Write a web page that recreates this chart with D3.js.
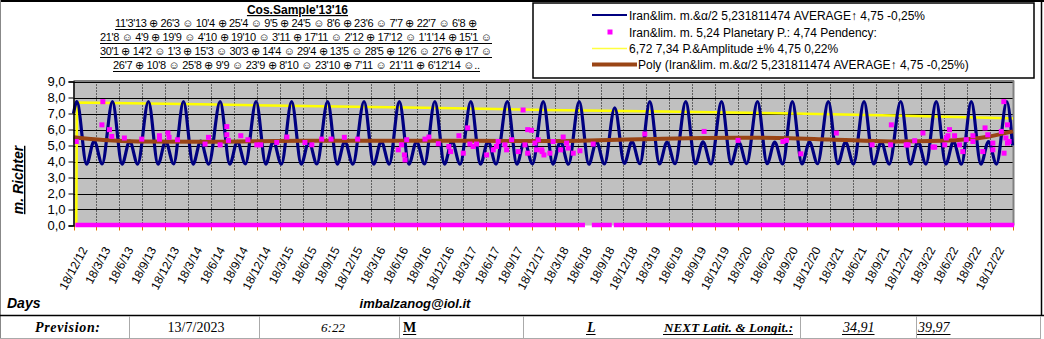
<!DOCTYPE html>
<html><head><meta charset="utf-8">
<script src="https://cdn.jsdelivr.net/npm/d3@7"></script>
<style>
body{margin:0;background:#fff}
svg{display:block}
</style>
</head><body>
<svg id="c" width="1044" height="339" font-family="Arial, 'Liberation Sans', sans-serif"></svg>
<script>
// ---------- DATA ----------
const quarterLabels = ["18/12/12","18/3/13","18/6/13","18/9/13","18/12/13","18/3/14","18/6/14","18/9/14","18/12/14","18/3/15","18/6/15","18/9/15","18/12/15","18/3/16","18/6/16","18/9/16","18/12/16","18/3/17","18/6/17","18/9/17","18/12/17","18/3/18","18/6/18","18/9/18","18/12/18","18/3/19","18/6/19","18/9/19","18/12/19","18/3/20","18/6/20","18/9/20","18/12/20","18/3/21","18/6/21","18/9/21","18/12/21","18/3/22","18/6/22","18/9/22","18/12/22"];
const yTickValues = [0,1,2,3,4,5,6,7,8,9];

// blue series (Iran&lim. m.&α/2) – key points, x in quarters from the left edge
const blueQ = [0.00,
 0.15,0.57,0.90,1.25, 1.70,2.12,2.45,2.80, 3.27,3.69,4.02,4.37, 4.80,5.22,5.55,5.90,
 6.40,6.82,7.15,7.50, 7.97,8.39,8.72,9.07, 9.52,9.94,10.27,10.62, 11.09,11.51,11.84,12.19,
 12.68,13.10,13.43,13.78, 14.22,14.64,14.97,15.32, 15.77,16.19,16.52,16.87, 17.34,17.76,18.09,18.44,
 18.93,19.35,19.68,20.03, 20.50,20.92,21.25,21.60, 22.07,22.49,22.82,23.17, 23.62,24.04,24.37,24.72,
 25.15,25.57,25.90,26.25, 26.72,27.14,27.47,27.82, 28.28,28.70,29.03,29.38, 29.85,30.27,30.60,30.95,
 31.37,31.79,32.12,32.47, 32.94,33.36,33.69,34.04, 34.50,34.92,35.25,35.60, 36.10,36.52,36.85,37.20,
 37.65,38.07,38.40,38.75, 39.18,39.60,39.93,40.28, 40.73,40.98];
const blueM = [7.00,
 7.74,3.83,5.28,3.85, 7.74,3.83,5.27,3.84, 7.75,3.83,5.26,3.85, 7.74,3.84,5.27,3.83,
 7.74,3.83,5.26,3.85, 7.75,3.84,5.27,3.83, 7.74,3.83,5.25,3.85, 7.74,3.84,5.26,3.83,
 7.75,3.83,5.26,3.84, 7.74,3.83,5.25,3.85, 7.75,3.84,5.26,3.83, 7.74,3.83,5.25,3.84,
 7.75,3.83,5.26,3.85, 7.74,3.84,5.25,3.83, 7.74,3.83,5.24,3.85, 7.36,3.88,5.24,3.86,
 7.74,3.85,5.22,3.86, 7.74,3.86,5.23,3.85, 7.74,3.85,5.22,3.87, 7.75,3.86,5.22,3.85,
 7.74,3.85,5.21,3.86, 7.74,3.86,5.22,3.85, 7.74,3.85,5.22,3.84, 7.75,3.84,5.23,3.84,
 7.74,3.84,5.24,3.83, 7.74,3.83,5.25,3.84, 7.75,5.00];

// magenta points (Planetary P.)
const planetQ = [0.12,1.28,1.24,1.57,1.67,2.22,2.98,3.75,3.75,4.12,4.17,4.54,5.74,5.89,6.40,6.69,6.69,6.76,7.30,7.61,8.00,8.17,8.87,9.31,10.10,10.40,10.83,11.24,11.82,12.40,
 14.17,14.32,14.44,14.47,14.54,15.34,15.51,15.92,16.38,16.46,16.82,17.01,17.20,17.30,17.44,17.59,18.03,18.32,18.46,18.53,18.83,18.90,19.12,19.41,19.62,19.70,19.82,19.82,19.99,
 20.14,20.21,20.28,20.43,20.45,20.53,20.79,20.93,21.26,21.37,21.52,21.59,21.81,22.10,22.68,24.93,27.52,29.00,30.96,31.11,31.74,33.29,34.85,35.66,35.69,36.34,36.42,36.71,
 37.07,37.51,37.58,38.02,38.09,38.16,38.23,38.45,38.67,38.81,38.96,39.25,39.25,39.68,39.78,39.90,40.12,40.12,40.49,40.60,40.61,40.69,40.76,40.76,40.83];
const planetM = [5.25,7.74,6.29,5.99,5.57,5.47,5.40,5.61,5.40,5.78,5.51,5.36,5.09,5.51,5.04,6.18,5.67,5.32,5.61,5.36,5.04,5.04,5.19,5.53,5.19,5.04,5.40,5.40,5.51,5.40,
 4.73,5.04,4.41,4.10,5.36,5.40,5.53,5.11,4.94,4.62,5.61,4.52,6.10,5.09,4.94,5.09,4.41,4.73,4.94,5.25,5.04,4.73,5.36,4.62,7.22,5.04,5.99,4.52,5.95,
 5.15,4.73,5.36,4.73,4.62,4.41,4.52,5.25,4.73,5.53,5.15,4.84,4.52,4.67,5.09,5.72,5.88,5.32,5.25,5.32,4.48,5.78,5.04,5.04,6.29,5.04,5.04,5.30,
 5.78,4.90,4.90,5.04,5.47,5.61,5.99,5.61,5.04,4.62,5.36,5.61,5.25,4.62,6.10,5.67,5.15,4.73,5.88,7.74,4.52,5.47,6.29,5.15,5.25];
// long runs of zero-valued planetary points [from, to] in quarters
const zeroRuns = [[0.08,22.32],[22.62,23.49],[23.58,41.05]];

// yellow series (P.&Amplitude)
const ampQ = [0.12,0.15,5.5,10.0,15.3,20.6,25.7,30.8,35.8,40.8,41.0];
const ampM = [0.00,7.68,7.58,7.47,7.36,7.22,7.12,7.01,6.88,6.70,6.69];

// brown polynomial trend
const polyQ = [0.0,1.3,2.8,5.7,10.0,14.0,20.6,24.7,27.6,30.0,33.0,35.7,37.9,39.9,41.0];
const polyM = [5.51,5.34,5.25,5.24,5.30,5.30,5.28,5.39,5.47,5.48,5.38,5.25,5.30,5.55,5.88];

const legendLabels = [
 "Iran&lim. m.&\u03B1/2 5,231811474 AVERAGE\u2191 4,75 -0,25%",
 "Iran&lim. m. 5,24 Planetary P.: 4,74 Pendency:",
 "6,72 7,34 P.&Amplitude \u00B1% 4,75 0,22%",
 "Poly (Iran&lim. m.&\u03B1/2 5,231811474 AVERAGE\u2191 4,75 -0,25%)"];
const moonTitle = "Cos.Sample'13'16";
const moonLines = [
 "11'3'13 \u2295 26'3 \u263A 10'4 \u2295 25'4 \u263A 9'5 \u2295 24'5 \u263A 8'6 \u2295 23'6 \u263A 7'7 \u2295 22'7 \u263A 6'8 \u2295",
 "21'8 \u263A 4'9 \u2295 19'9 \u263A 4'10 \u2295 19'10 \u263A 3'11 \u2295 17'11 \u263A 2'12 \u2295 17'12 \u263A 1'1'14 \u2295 15'1 \u263A",
 "30'1 \u2295 14'2 \u263A 1'3 \u2295 15'3 \u263A 30'3 \u2295 14'4 \u263A 29'4 \u2295 13'5 \u263A 28'5 \u2295 12'6 \u263A 27'6 \u2295 1'7 \u263A",
 "26'7 \u2295 10'8 \u263A 25'8 \u2295 9'9 \u263A 23'9 \u2295 8'10 \u263A 23'10 \u2295 7'11 \u263A 21'11 \u2295 6'12'14 \u263A.."];
const bottomTexts = ["Prevision:","13/7/2023","6:22","M","L","NEXT Latit. & Longit.:","34,91","39,97"];

// ---------- DRAW ----------
const svg = d3.select("#c");
const W = 1044, H = 339;
const L = 73.5, R = 1013, T = 81.5, B = 225.5;
const x = d3.scaleLinear().domain([0,41]).range([L,R]);
const xb = d3.scaleBand().domain(quarterLabels).range([L,R]);
const y = d3.scaleLinear().domain([0,9]).range([B,T]);

svg.append("rect").attr("width",W).attr("height",H).attr("fill","#fff");

// frame
svg.append("line").attr("x1",0).attr("x2",W).attr("y1",1).attr("y2",1).attr("stroke","#000").attr("stroke-width",2);
svg.append("line").attr("x1",0.5).attr("x2",0.5).attr("y1",0).attr("y2",339).attr("stroke","#888").attr("stroke-width",1);
svg.append("line").attr("x1",1041.5).attr("x2",1041.5).attr("y1",0).attr("y2",316).attr("stroke","#000").attr("stroke-width",1.5);

// plot area
svg.append("rect").attr("x",L).attr("y",T).attr("width",R-L).attr("height",B-T).attr("fill","#c0c0c0");
const grid = svg.append("g");
grid.selectAll("line.h").data(yTickValues.filter(v=>v>0)).join("line")
 .attr("x1",L).attr("x2",R).attr("y1",d=>Math.round(y(d))+0.5).attr("y2",d=>Math.round(y(d))+0.5)
 .attr("stroke","#000").attr("stroke-width",1);
grid.selectAll("line.v").data(d3.range(1,41)).join("line")
 .attr("x1",d=>Math.round(x(d))+0.5).attr("x2",d=>Math.round(x(d))+0.5).attr("y1",T).attr("y2",B)
 .attr("stroke","#000").attr("stroke-width",1).attr("stroke-dasharray","1,2");
svg.append("line").attr("x1",L).attr("x2",R+1).attr("y1",T-0.5).attr("y2",T-0.5).attr("stroke","#808080").attr("stroke-width",2);
svg.append("line").attr("x1",R+0.5).attr("x2",R+0.5).attr("y1",T-1).attr("y2",B).attr("stroke","#808080").attr("stroke-width",2);

// x tick marks (orange)
svg.append("g").selectAll("line").data(d3.range(0,42)).join("line")
 .attr("x1",d=>Math.round(x(d))+0.5).attr("x2",d=>Math.round(x(d))+0.5).attr("y1",B).attr("y2",B+5)
 .attr("stroke","#e07000").attr("stroke-width",1);

// yellow
const lineGen = (qs,ms,curve)=>d3.line().x((d,i)=>x(qs[i])).y((d,i)=>y(ms[i])).curve(curve)(qs);
svg.append("path").attr("d",lineGen(ampQ,ampM,d3.curveLinear)).attr("fill","none").attr("stroke","#ffff00").attr("stroke-width",2.5);
// blue
svg.append("path").attr("d",lineGen(blueQ,blueM,d3.curveMonotoneX)).attr("fill","none").attr("stroke","#000080").attr("stroke-width",3.2).attr("stroke-linejoin","round");
// zero runs (magenta)
svg.append("g").selectAll("line").data(zeroRuns).join("line")
 .attr("x1",d=>x(d[0])).attr("x2",d=>x(d[1])).attr("y1",y(0)-0.5).attr("y2",y(0)-0.5)
 .attr("stroke","#ff00ff").attr("stroke-width",4.5);
// brown poly
svg.append("path").attr("d",lineGen(polyQ,polyM,d3.curveMonotoneX)).attr("fill","none").attr("stroke","#9a4515").attr("stroke-width",4);
// magenta points
svg.append("g").selectAll("rect").data(planetQ).join("rect")
 .attr("x",(d,i)=>x(d)-2.5).attr("y",(d,i)=>y(planetM[i])-2.5).attr("width",5).attr("height",5).attr("fill","#ff00ff");

// y axis
const ya = svg.append("g").attr("transform",`translate(${L},0)`)
 .call(d3.axisLeft(y).tickValues(yTickValues).tickSize(5).tickPadding(3).tickFormat(d=>d.toFixed(1).replace(".",",")));
ya.attr("font-family",null).attr("font-size",null);
ya.select(".domain").attr("stroke","#000").attr("stroke-width",1.5);
ya.selectAll(".tick line").attr("stroke","#000");
ya.selectAll("text").attr("font-size",13).attr("fill","#000");

// x axis labels
const xa = svg.append("g").attr("transform",`translate(0,${B})`)
 .call(d3.axisBottom(xb).tickSize(0));
xa.attr("font-family",null).attr("font-size",null);
xa.select(".domain").remove();
xa.selectAll("text").attr("font-size",12).attr("fill","#000")
 .attr("text-anchor","end").attr("x",0).attr("y",0).attr("dy",0)
 .attr("transform","translate(3,24) rotate(-62)");

// y title
svg.append("text").attr("transform","translate(23,180) rotate(-90)").attr("text-anchor","middle")
 .attr("font-size",14).attr("font-weight","bold").attr("font-style","italic").attr("text-decoration","underline").text("m. Richter");

// moon block
svg.append("text").attr("x",297.5).attr("y",14).attr("text-anchor","middle").attr("font-size",12).attr("font-weight","bold")
 .attr("text-decoration","underline").text(moonTitle);
const mLayout = [[115,362,27],[100,392,41],[100,392,55],[113,367,69]];
moonLines.forEach((s,i)=>{
 const [mx,ml,mb] = mLayout[i];
 svg.append("text").attr("x",mx).attr("y",mb).attr("font-size",11).attr("textLength",ml).attr("lengthAdjust","spacing").text(s);
 svg.append("line").attr("x1",mx).attr("x2",mx+ml).attr("y1",mb+2.5).attr("y2",mb+2.5).attr("stroke","#000").attr("stroke-width",1);
});

// legend
const lg = svg.append("g");
lg.append("rect").attr("x",533).attr("y",3).attr("width",501).attr("height",75).attr("fill","#fff").attr("stroke","#000").attr("stroke-width",1.5);
const rows = [15,32,48.5,64.5];
lg.append("line").attr("x1",592).attr("x2",627).attr("y1",rows[0]).attr("y2",rows[0]).attr("stroke","#000080").attr("stroke-width",2);
lg.append("rect").attr("x",608.5).attr("y",rows[0]-1).attr("width",3).attr("height",2).attr("fill","#000080");
lg.append("rect").attr("x",607.5).attr("y",rows[1]-2.5).attr("width",5).attr("height",5).attr("fill","#ff00ff");
lg.append("line").attr("x1",592).attr("x2",627).attr("y1",rows[2]).attr("y2",rows[2]).attr("stroke","#ffff40").attr("stroke-width",1.5);
lg.append("line").attr("x1",592).attr("x2",637).attr("y1",rows[3]).attr("y2",rows[3]).attr("stroke","#9a4515").attr("stroke-width",4);
legendLabels.forEach((s,i)=>{
 lg.append("text").attr("x",i===3?638:629).attr("y",rows[i]+4.5).attr("font-size",12).text(s);
});

// bottom captions
svg.append("text").attr("x",7).attr("y",308).attr("font-size",14).attr("font-weight","bold").attr("font-style","italic").text("Days");
svg.append("text").attr("x",415).attr("y",308).attr("text-anchor","middle").attr("font-size",13).attr("font-weight","bold").attr("font-style","italic").text("imbalzanog@iol.it");

// bottom table row
svg.append("line").attr("x1",0).attr("x2",W).attr("y1",315.5).attr("y2",315.5).attr("stroke","#000").attr("stroke-width",1.5);
svg.append("line").attr("x1",0).attr("x2",1041).attr("y1",338.5).attr("y2",338.5).attr("stroke","#aaa").attr("stroke-width",1);
[129.5,259.5,399.5,523.5,800.5,916.5,1040.5].forEach(cx=>{
 svg.append("line").attr("x1",cx).attr("x2",cx).attr("y1",316).attr("y2",339).attr("stroke","#aaa").attr("stroke-width",1);
});
const serif = "'Liberation Serif','Times New Roman',serif";
const cells = [
 {x:35, a:"start", w:"bold", s:"italic", u:false, len:65, fs:14},
 {x:196, a:"middle", w:"normal", s:"normal", u:false, fs:14},
 {x:333, a:"middle", w:"normal", s:"italic", u:false, fs:13},
 {x:403, a:"start", w:"bold", s:"normal", u:true, fs:14},
 {x:587, a:"start", w:"bold", s:"italic", u:true, fs:14},
 {x:664, a:"start", w:"bold", s:"italic", u:true, len:129, fs:13},
 {x:843, a:"start", w:"normal", s:"italic", u:true, fs:14},
 {x:918, a:"start", w:"normal", s:"italic", u:true, fs:14}];
bottomTexts.forEach((t,i)=>{
 const c = cells[i];
 const tx = svg.append("text").attr("x",c.x).attr("y",332).attr("text-anchor",c.a).attr("font-family",serif)
  .attr("font-size",c.fs).attr("font-weight",c.w).attr("font-style",c.s).text(t);
 if (c.len) tx.attr("textLength",c.len).attr("lengthAdjust","spacing");
 if (c.u) {
  const bb = tx.node().getBBox();
  svg.append("line").attr("x1",bb.x).attr("x2",bb.x+bb.width).attr("y1",334.5).attr("y2",334.5).attr("stroke","#000").attr("stroke-width",1);
 }
});
</script>
</body></html>
